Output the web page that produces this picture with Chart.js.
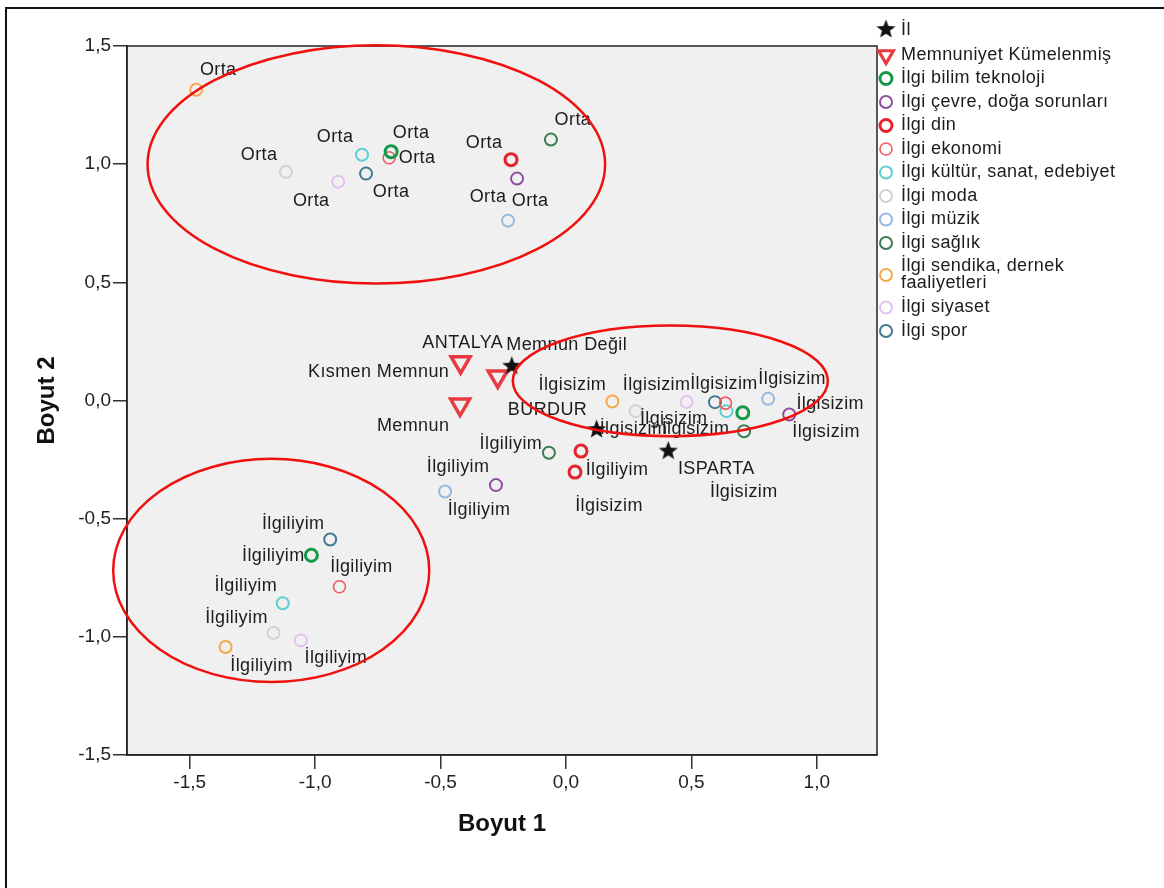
<!DOCTYPE html>
<html>
<head>
<meta charset="utf-8">
<script src="https://cdn.jsdelivr.net/npm/chart.js@4.4.0/dist/chart.umd.min.js"></script>
<style>
  html, body { margin: 0; padding: 0; background: #fff; }
</style>
</head>
<body>
<canvas id="chart" width="1164" height="888"></canvas>
<script>
// değişkenler ve kategoriler
const ilgiVars = ['İlgi bilim teknoloji', 'İlgi çevre, doğa sorunları', 'İlgi din', 'İlgi ekonomi',
  'İlgi kültür, sanat, edebiyet', 'İlgi moda', 'İlgi müzik', 'İlgi sağlık',
  'İlgi sendika, dernek faaliyetleri', 'İlgi siyaset', 'İlgi spor'];
const ilgiCats = ['Orta', 'İlgiliyim', 'İlgisizim'];

// koordinatlar (Boyut 1, Boyut 2) - ilgiVars sırasıyla
const ortaX = [-0.697, -0.195, -0.219, -0.705, -0.813, -1.116, -0.231, -0.060, -1.474, -0.908, -0.797];
const ortaY = [1.053, 0.939, 1.019, 1.027, 1.040, 0.968, 0.761, 1.104, 1.315, 0.926, 0.960];
const ilgiliyimX = [-1.015, -0.279, 0.060, -0.903, -1.129, -1.166, -0.482, -0.068, -1.357, -1.057, -0.940];
const ilgiliyimY = [-0.655, -0.358, -0.214, -0.788, -0.858, -0.984, -0.385, -0.221, -1.043, -1.015, -0.588];
const ilgisizimX = [0.705, 0.890, 0.036, 0.636, 0.640, 0.278, 0.806, 0.710, 0.185, 0.481, 0.594];
const ilgisizimY = [-0.052, -0.059, -0.303, -0.011, -0.045, -0.045, 0.007, -0.130, -0.004, -0.006, -0.007];

const memnunCats = ['Memnun', 'Kısmen Memnun', 'Memnun Değil'];
const memnunX = [-0.422, -0.420, -0.272];
const memnunY = [-0.017, 0.162, 0.102];

const ilCats = ['ANTALYA', 'BURDUR', 'ISPARTA'];
const ilX = [-0.216, 0.122, 0.408];
const ilY = [0.145, -0.123, -0.214];

const xTicks = [-1.5, -1.0, -0.5, 0.0, 0.5, 1.0];
const yTicks = [-1.5, -1.0, -0.5, 0.0, 0.5, 1.0, 1.5];

// görünüm
const FONT = "'Liberation Sans', Arial, sans-serif";
const ilgiColors = ['#14994a', '#8e4f9e', '#e6222c', '#f25a60', '#5cd0d2', '#d2d2d2',
  '#93b9e3', '#3a7d52', '#f5a84a', '#e2c0f2', '#3f7a90'];
const ilgiWidths = [3, 2, 3, 1.6, 2, 2, 2, 2, 2, 2, 2];

// etiket kaydırmaları (piksel)
const ortaLabelOff = [[20, -19], [13, 22], [-27, -17], [28, 0], [-27, -18], [-27, -17], [-20, -24], [22, -20], [22, -20], [-27, 19], [25, 18]];
const ilgiliyimLabelOff = [[-38, 1], [-17, 25], [36, 19], [22, -20], [-37, -17], [-37, -15], [13, -24], [-38, -9], [36, 19], [35, 18], [-37, -15]];
const ilgisizimLabelOff = [[1, 79], [41, -10], [34, 34], [-92, 26], [-31, 18], [38, 8], [24, -20], [82, 1], [-40, -16], [-30, -17], [9, -18]];
const memnunLabelOff = [[-47, 22], [-82, 10], [69, -31]];
const ilLabelOff = [[-49, -23], [-49, -20], [48, 18]];

// kırmızı kümeler (veri koordinatlarında)
const kumeler = [
  { cx: -0.756, cy: 0.999, rx: 0.912, ry: 0.504 },
  { cx: 0.416, cy: 0.083, rx: 0.628, ry: 0.234 },
  { cx: -1.175, cy: -0.719, rx: 0.630, ry: 0.472 }
];

function makeStar(size, color) {
  const c = document.createElement('canvas');
  c.width = size; c.height = size;
  const g = c.getContext('2d');
  const R = size / 2 - 0.5, r = R * 0.42, m = size / 2;
  g.beginPath();
  for (let k = 0; k < 10; k++) {
    const a = -Math.PI / 2 + k * Math.PI / 5;
    const rr = k % 2 ? r : R;
    g.lineTo(m + rr * Math.cos(a), m + rr * Math.sin(a));
  }
  g.closePath();
  g.fillStyle = color;
  g.fill();
  return c;
}
const starImg = makeStar(21, '#111');
const starLegend = makeStar(21, '#111');

const fmt = v => v.toFixed(1).replace('.', ',');

const datasets = [
  {
    label: 'İl',
    data: ilCats.map((c, i) => ({ x: ilX[i], y: ilY[i] })),
    pointLabels: ilCats, labelOffsets: ilLabelOff,
    pointStyle: starImg, pointRadius: 10
  },
  {
    label: 'Memnuniyet Kümelenmiş',
    data: memnunCats.map((c, i) => ({ x: memnunX[i], y: memnunY[i] })),
    pointLabels: memnunCats, labelOffsets: memnunLabelOff,
    pointStyle: 'triangle', pointRotation: 180, pointRadius: 11,
    pointBorderColor: '#e83a40', pointBorderWidth: 3.5, pointBackgroundColor: 'rgba(0,0,0,0)'
  }
].concat(ilgiVars.map((v, i) => ({
  label: v,
  data: [
    { x: ortaX[i], y: ortaY[i] },
    { x: ilgiliyimX[i], y: ilgiliyimY[i] },
    { x: ilgisizimX[i], y: ilgisizimY[i] }
  ],
  pointLabels: ilgiCats,
  labelOffsets: [ortaLabelOff[i], ilgiliyimLabelOff[i], ilgisizimLabelOff[i]],
  pointStyle: 'circle', pointRadius: 6,
  pointBorderColor: ilgiColors[i], pointBorderWidth: ilgiWidths[i],
  pointBackgroundColor: 'rgba(0,0,0,0)'
})));

// arka plan ve çerçeve
const frame = {
  id: 'frame',
  beforeDraw(chart) {
    const { ctx, chartArea: a } = chart;
    ctx.save();
    ctx.fillStyle = '#fff';
    ctx.fillRect(0, 0, chart.width, chart.height);
    ctx.strokeStyle = '#111';
    ctx.lineWidth = 2;
    ctx.beginPath();
    ctx.moveTo(6, chart.height);
    ctx.lineTo(6, 8);
    ctx.lineTo(chart.width, 8);
    ctx.stroke();
    ctx.fillStyle = '#f0f0f0';
    ctx.fillRect(a.left, a.top, a.right - a.left, a.bottom - a.top);
    ctx.strokeStyle = '#222';
    ctx.lineWidth = 1.5;
    ctx.strokeRect(a.left, a.top, a.right - a.left, a.bottom - a.top);
    ctx.restore();
  }
};

// nokta etiketleri
const pointLabels = {
  id: 'pointLabels',
  afterDatasetsDraw(chart) {
    const ctx = chart.ctx;
    ctx.save();
    ctx.font = '18px ' + FONT;
    ctx.letterSpacing = '0.4px';
    ctx.fillStyle = '#1c1c1c';
    ctx.textAlign = 'center';
    ctx.textBaseline = 'middle';
    chart.data.datasets.forEach((ds, i) => {
      chart.getDatasetMeta(i).data.forEach((pt, j) => {
        const off = ds.labelOffsets[j];
        ctx.fillText(ds.pointLabels[j], pt.x + off[0], pt.y + off[1]);
      });
    });
    ctx.restore();
  }
};

// elipsler
const ellipses = {
  id: 'ellipses',
  afterDraw(chart) {
    const { ctx, scales: { x, y } } = chart;
    ctx.save();
    ctx.strokeStyle = '#f01010';
    ctx.lineWidth = 2.5;
    kumeler.forEach(k => {
      const px = x.getPixelForValue(k.cx), py = y.getPixelForValue(k.cy);
      const rx = x.getPixelForValue(k.cx + k.rx) - px;
      const ry = py - y.getPixelForValue(k.cy + k.ry);
      ctx.beginPath();
      ctx.ellipse(px, py, rx, ry, 0, 0, Math.PI * 2);
      ctx.stroke();
    });
    ctx.restore();
  }
};

function wrapText(ctx, text, maxW) {
  const words = text.split(' ');
  const lines = [];
  let cur = '';
  words.forEach(w => {
    const t = cur ? cur + ' ' + w : w;
    if (cur && ctx.measureText(t).width > maxW) { lines.push(cur); cur = w; } else cur = t;
  });
  lines.push(cur);
  return lines;
}

// lejant
const legendPanel = {
  id: 'legendPanel',
  afterDraw(chart) {
    const ctx = chart.ctx;
    const mx = 886, tx = 901;
    ctx.save();
    ctx.font = '18px ' + FONT;
    ctx.letterSpacing = '0.4px';
    ctx.textBaseline = 'middle';
    ctx.textAlign = 'left';
    let y = 30;
    chart.data.datasets.forEach((ds, i) => {
      const lines = wrapText(ctx, ds.label, 236);
      const my = y + (lines.length - 1) * 8.5;
      if (ds.pointStyle === 'circle') {
        ctx.beginPath();
        ctx.arc(mx, my, 6, 0, Math.PI * 2);
        ctx.strokeStyle = ds.pointBorderColor;
        ctx.lineWidth = ds.pointBorderWidth;
        ctx.stroke();
      } else if (ds.pointStyle === 'triangle') {
        const r = 8.5;
        ctx.beginPath();
        ctx.moveTo(mx, my + r);
        ctx.lineTo(mx - r * 0.866, my - r / 2);
        ctx.lineTo(mx + r * 0.866, my - r / 2);
        ctx.closePath();
        ctx.strokeStyle = ds.pointBorderColor;
        ctx.lineWidth = 3.2;
        ctx.stroke();
      } else {
        ctx.drawImage(starLegend, mx - 10.5, my - 11);
      }
      ctx.fillStyle = '#1c1c1c';
      lines.forEach((l, k) => ctx.fillText(l, tx, y + k * 17));
      y += (i === 0 ? 25 : 23.5) + (lines.length - 1) * 17.5;
    });
    ctx.restore();
  }
};

new Chart(document.getElementById('chart').getContext('2d'), {
  type: 'scatter',
  data: { datasets: datasets },
  options: {
    responsive: false,
    animation: false,
    events: [],
    layout: { padding: { top: 46, right: 287, left: 0, bottom: 0 } },
    plugins: { legend: { display: false }, tooltip: { enabled: false } },
    scales: {
      x: {
        type: 'linear', min: -1.75, max: 1.24,
        afterBuildTicks: s => { s.ticks = xTicks.map(v => ({ value: v })); },
        afterFit: s => { s.height = 133; },
        grid: { drawOnChartArea: false, drawTicks: true, tickLength: 14, color: '#333', lineWidth: 1.5 },
        border: { display: true, color: '#222', width: 1.5 },
        ticks: { color: '#222', font: { family: FONT, size: 19 }, padding: 2, maxRotation: 0, callback: v => fmt(v) },
        title: { display: true, text: 'Boyut 1', color: '#111', font: { family: FONT, size: 24, weight: 'bold' }, padding: { top: 0, bottom: 49 } }
      },
      y: {
        type: 'linear', min: -1.5, max: 1.5,
        afterBuildTicks: s => { s.ticks = yTicks.map(v => ({ value: v })); },
        afterFit: s => { s.width = 127; },
        grid: { drawOnChartArea: false, drawTicks: true, tickLength: 14, color: '#333', lineWidth: 1.5 },
        border: { display: true, color: '#222', width: 1.5 },
        ticks: { color: '#222', font: { family: FONT, size: 19 }, padding: 2, callback: v => fmt(v) },
        title: { display: true, text: 'Boyut 2', color: '#111', font: { family: FONT, size: 24, weight: 'bold' }, padding: { top: 33, bottom: 0 } }
      }
    }
  },
  plugins: [frame, pointLabels, ellipses, legendPanel]
});
</script>
</body>
</html>
